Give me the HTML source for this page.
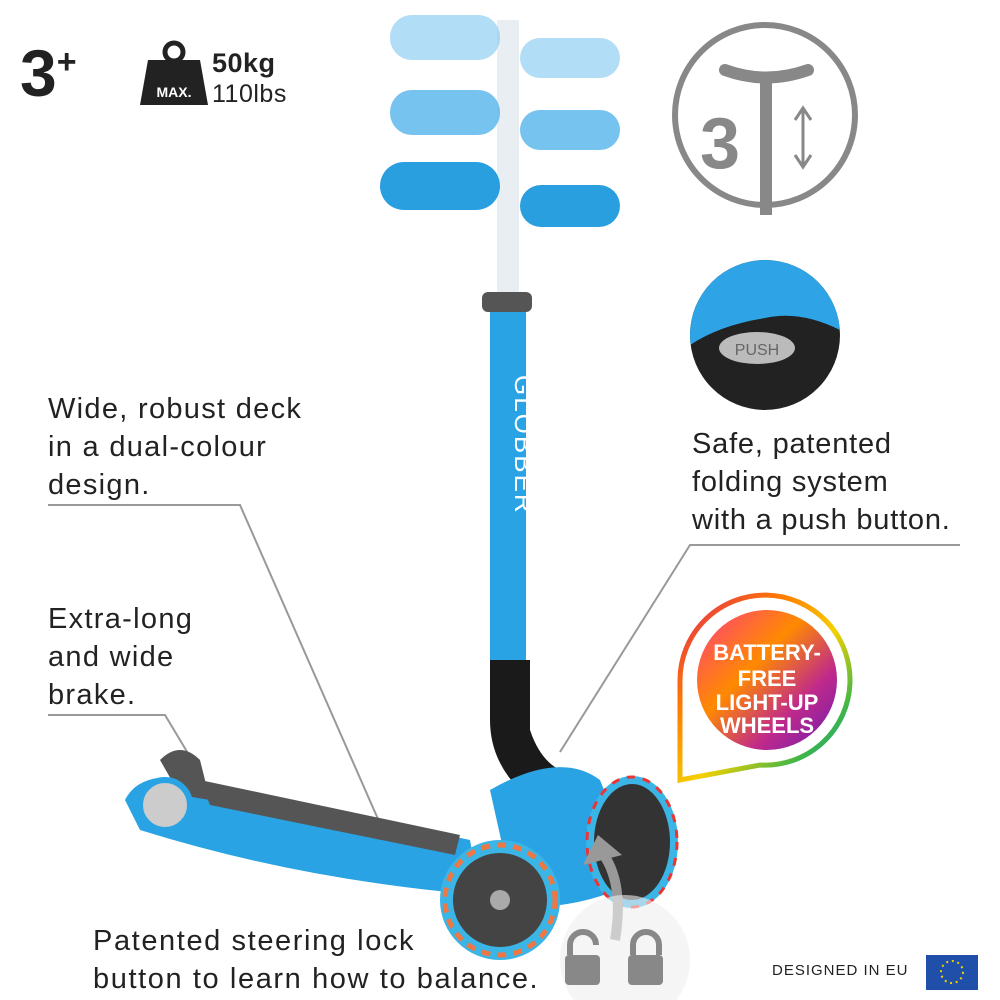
<!DOCTYPE html>
<html><head><meta charset="utf-8"><style>
body{margin:0;width:1000px;height:1000px;background:#fff;overflow:hidden;font-family:"Liberation Sans",sans-serif}
.t{position:absolute;font-size:29px;line-height:38px;color:#222;letter-spacing:1.3px}
</style></head><body>
<svg width="1000" height="1000" style="position:absolute;left:0;top:0">
<defs>
<linearGradient id="rb" x1="0" y1="0" x2="1" y2="1"><stop offset="0" stop-color="#e0245e"/><stop offset="0.3" stop-color="#ff7a00"/><stop offset="0.55" stop-color="#f5d000"/><stop offset="0.8" stop-color="#3ab54a"/><stop offset="1" stop-color="#1e88e5"/></linearGradient>
<linearGradient id="rb2" x1="0" y1="0" x2="1" y2="1"><stop offset="0" stop-color="#ff3d7f"/><stop offset="0.4" stop-color="#ff8a00"/><stop offset="0.7" stop-color="#c02a8a"/><stop offset="1" stop-color="#6a1bb0"/></linearGradient>
<clipPath id="c1"><circle cx="765" cy="335" r="75"/></clipPath>
</defs>
<g stroke="#999" stroke-width="2" fill="none">
<polyline points="48,505 240,505 385,835"/>
<polyline points="48,715 165,715 192,760"/>
<polyline points="960,545 690,545 560,752"/>
</g>
<path d="M140,105 L148,60 L200,60 L208,105 Z" fill="#222"/>
<circle cx="174" cy="52" r="9" fill="none" stroke="#222" stroke-width="5"/>
<text x="174" y="97" font-size="14" font-weight="bold" fill="#fff" text-anchor="middle">MAX.</text>
<circle cx="765" cy="115" r="90" fill="none" stroke="#888" stroke-width="6"/>
<rect x="760" y="75" width="12" height="140" fill="#888"/>
<path d="M725,70 Q766,85 808,70" stroke="#888" stroke-width="12" fill="none" stroke-linecap="round"/>
<text x="720" y="168" font-size="72" font-weight="bold" fill="#888" text-anchor="middle">3</text>
<path d="M803,110 L803,165 M795,120 L803,108 L811,120 M795,155 L803,167 L811,155" stroke="#888" stroke-width="3" fill="none"/>
<circle cx="765" cy="335" r="75" fill="#222"/>
<g clip-path="url(#c1)"><path d="M690,260 L840,260 L840,330 Q800,310 765,318 Q720,325 690,345 Z" fill="#2ea4e6"/></g>
<ellipse cx="757" cy="348" rx="38" ry="16" fill="#bbb"/>
<text x="757" y="355" font-size="16" fill="#666" text-anchor="middle">PUSH</text>
<path d="M680,780 L680,680 A85,85 0 1 1 760,765 Z" fill="none" stroke="url(#rb)" stroke-width="5"/>
<circle cx="767" cy="680" r="70" fill="url(#rb2)"/>
<text x="767" y="660" font-size="22" font-weight="bold" fill="#fff" text-anchor="middle">BATTERY-</text>
<text x="767" y="686" font-size="22" font-weight="bold" fill="#fff" text-anchor="middle">FREE</text>
<text x="767" y="710" font-size="22" font-weight="bold" fill="#fff" text-anchor="middle">LIGHT-UP</text>
<text x="767" y="733" font-size="22" font-weight="bold" fill="#fff" text-anchor="middle">WHEELS</text>
<rect x="497" y="20" width="22" height="290" fill="#e8eef2"/>
<rect x="490" y="300" width="36" height="370" fill="#2aa3e4"/>
<rect x="482" y="292" width="50" height="20" rx="6" fill="#555"/>
<text x="0" y="0" font-size="26" fill="#fff" transform="translate(515,375) rotate(90)" letter-spacing="2">GLOBBER</text>
<path d="M490,660 L530,660 L530,730 Q540,760 560,770 L520,790 Q490,760 490,720 Z" fill="#1a1a1a"/>
<g fill="#7fc6f0" opacity="0.6"><rect x="390" y="15" width="110" height="45" rx="22"/><rect x="520" y="38" width="100" height="40" rx="20"/></g>
<g fill="#55b4ec" opacity="0.8"><rect x="390" y="90" width="110" height="45" rx="22"/><rect x="520" y="110" width="100" height="40" rx="20"/></g>
<g fill="#2a9fe0"><rect x="380" y="162" width="120" height="48" rx="24"/><rect x="520" y="185" width="100" height="42" rx="21"/></g>
<path d="M125,800 Q140,770 190,780 L470,840 L480,895 Q300,880 140,830 Z" fill="#2aa3e4"/>
<path d="M200,780 L460,835 L455,855 L210,805 Z" fill="#555"/>
<path d="M160,760 Q180,740 200,760 L210,800 L180,795 Z" fill="#555"/>
<circle cx="165" cy="805" r="25" fill="#ccc" stroke="#2aa3e4" stroke-width="6"/>
<path d="M490,790 Q560,750 600,780 L640,880 Q600,900 560,905 L510,880 Z" fill="#2aa3e4"/>
<ellipse cx="598" cy="835" rx="12" ry="15" fill="#555"/>
<ellipse cx="632" cy="842" rx="42" ry="62" fill="#333" stroke="#3ab5e6" stroke-width="8"/>
<ellipse cx="632" cy="842" rx="45" ry="65" fill="none" stroke="#e33" stroke-width="3" stroke-dasharray="8 8"/>
<circle cx="500" cy="900" r="60" fill="#3ab5e6"/>
<circle cx="500" cy="900" r="55" fill="none" stroke="#e74" stroke-width="5" stroke-dasharray="9 7"/>
<circle cx="500" cy="900" r="47" fill="#444"/>
<circle cx="500" cy="900" r="10" fill="#aaa"/>
<path d="M615,940 Q625,880 600,850" stroke="#999" stroke-width="10" fill="none"/>
<path d="M583,865 L598,835 L622,855 Z" fill="#999"/>
<circle cx="625" cy="960" r="65" fill="#eee" opacity="0.6"/>
<rect x="565" y="955" width="35" height="30" rx="4" fill="#888"/>
<path d="M570,955 L570,945 A13,13 0 0 1 596,945" stroke="#888" stroke-width="6" fill="none"/>
<rect x="628" y="955" width="35" height="30" rx="4" fill="#888"/>
<path d="M633,955 L633,945 A13,13 0 0 1 659,945 L659,955" stroke="#888" stroke-width="6" fill="none"/>
<rect x="926" y="955" width="52" height="35" fill="#1f4fa8"/>
<circle cx="952" cy="972" r="11" fill="none" stroke="#f5d000" stroke-width="2" stroke-dasharray="2 3.7"/>
</svg>
<div class="t" style="left:20px;top:22px;font-size:66px;line-height:80px;font-weight:bold;color:#222;letter-spacing:0">3<sup style="font-size:34px">+</sup></div>
<div class="t" style="left:212px;top:48px;font-size:27px;line-height:30px;font-weight:bold;letter-spacing:0.5px">50kg</div>
<div class="t" style="left:212px;top:80px;font-size:25px;line-height:28px;letter-spacing:0.5px">110lbs</div>
<div class="t" style="left:48px;top:390px">Wide, robust deck<br>in a dual-colour<br>design.</div>
<div class="t" style="left:48px;top:600px">Extra-long<br>and wide<br>brake.</div>
<div class="t" style="left:692px;top:425px;letter-spacing:0.8px">Safe, patented<br>folding system<br>with a push button.</div>
<div class="t" style="left:93px;top:922px;letter-spacing:1.6px">Patented steering lock<br>button to learn how to balance.</div>
<div class="t" style="left:772px;top:962px;font-size:15px;line-height:18px;letter-spacing:1px">DESIGNED IN EU</div>
</body></html>
